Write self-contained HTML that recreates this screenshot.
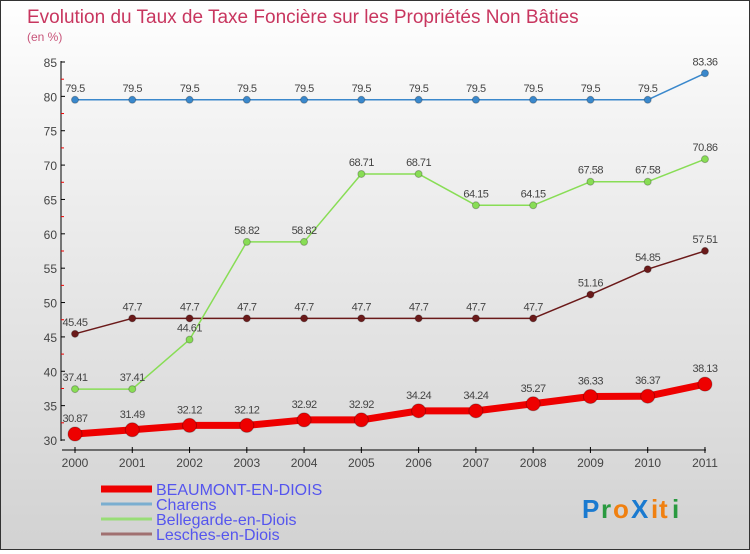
<!DOCTYPE html>
<html><head><meta charset="utf-8">
<style>
html,body{margin:0;padding:0}
body{width:750px;height:550px;overflow:hidden;font-family:"Liberation Sans",sans-serif}
#wrap{position:relative;width:748px;height:548px;border:1px solid #333;background:linear-gradient(#ffffff,#f4f4f4 20%,#d2d2d2)}
</style></head><body>
<div id="wrap">
<svg id="chart" width="748" height="548" font-family="Liberation Sans, sans-serif">
<text x="26" y="22" font-size="19" fill="#c8365f">Evolution du Taux de Taxe Foncière sur les Propriétés Non Bâties</text>
<text x="26" y="40" font-size="12" fill="#c8557a">(en %)</text>
<g id="axes"></g>
<g id="series"></g>
<g id="legend" font-size="16" fill="#5555ee"></g>
<g font-size="26" font-weight="bold">
<text x="581" y="517" fill="#1a7ad0">P</text><text x="600" y="517" fill="#2a9a40">r</text><text x="612" y="517" fill="#f08010">o</text><text x="630" y="517" fill="#1a7ad0">X</text><text x="650" y="517" fill="#f08010">i</text><text x="658" y="517" fill="#f08010">t</text><text x="671" y="517" fill="#2a9a40">i</text>
</g>
</svg>
</div>
<script>
const years=[2000,2001,2002,2003,2004,2005,2006,2007,2008,2009,2010,2011];
const yTicks=[30,35,40,45,50,55,60,65,70,75,80,85];
const beaumont=[30.87,31.49,32.12,32.12,32.92,32.92,34.24,34.24,35.27,36.33,36.37,38.13];
const charens=[79.5,79.5,79.5,79.5,79.5,79.5,79.5,79.5,79.5,79.5,79.5,83.36];
const bellegarde=[37.41,37.41,44.61,58.82,58.82,68.71,68.71,64.15,64.15,67.58,67.58,70.86];
const lesches=[45.45,47.7,47.7,47.7,47.7,47.7,47.7,47.7,47.7,51.16,54.85,57.51];
const seriesNames=["BEAUMONT-EN-DIOIS","Charens","Bellegarde-en-Diois","Lesches-en-Diois"];
const NS="http://www.w3.org/2000/svg";
const X=i=>74+i*57.27;
const Y=v=>439-(v-30)*(378/55);
function mk(tag,attrs,parent,txt){const e=document.createElementNS(NS,tag);for(const k in attrs)e.setAttribute(k,attrs[k]);if(txt!==undefined)e.textContent=txt;parent.appendChild(e);return e;}
const axes=document.getElementById('axes');
let yl=mk('line',{x1:60,y1:60,x2:60,y2:440,stroke:'#000','stroke-width':1},axes);


yTicks.forEach((v,i)=>{
 mk('line',{x1:60,y1:Y(v),x2:64,y2:Y(v),stroke:'#000'},axes);
 if(i<yTicks.length-1) mk('line',{x1:60,y1:Y(v+2.5),x2:63,y2:Y(v+2.5),stroke:'#e00'},axes);
 const t=mk('text',{x:56,y:Y(v)+5,'text-anchor':'end','font-size':12,fill:'#444'},axes,String(v));
 
 
});
let xl=mk('line',{x1:61,y1:449,x2:X(11)+1,y2:449,stroke:'#000','stroke-width':1},axes);


years.forEach((y,i)=>{
 mk('line',{x1:X(i),y1:446,x2:X(i),y2:452,stroke:'#000'},axes);
 const t=mk('text',{x:X(i),y:466,'text-anchor':'middle','font-size':12,fill:'#444'},axes,String(y));
 
 
});
const ser=document.getElementById('series');
function draw(vals,color,w,r,name,lblOff){
 const g=mk('g',{},ser);
 
 
 const pts=vals.map((v,i)=>X(i)+','+Y(v)).join(' ');
 mk('polyline',{points:pts,fill:'none',stroke:color,'stroke-width':w,'stroke-linejoin':'round'},g);
 vals.forEach((v,i)=>{
  const c=mk('circle',{cx:X(i),cy:Y(v),r:r,fill:color,stroke:'rgba(0,0,0,0.25)','stroke-width':1},g);
  
  
  const t=mk('text',{x:X(i),y:Y(v)-lblOff,'text-anchor':'middle','font-size':11,fill:'#444','letter-spacing':'-0.5'},g,String(v));
  
  
 });
}
draw(lesches,'#6b1a1a',1.5,3.5,'series-lesches',8);
draw(bellegarde,'#88dd55',1.5,3.5,'series-bellegarde',8);
draw(charens,'#3a88cc',1.5,3.5,'series-charens',8);
draw(beaumont,'#ee0000',7,7,'series-beaumont',12);
const lg=document.getElementById('legend');
const lc=['#ee0000','#7aaed0','#99dd77','#a07070'];
const lw=[7,3,3,3];
seriesNames.forEach((n,i)=>{
 const y=493+i*15;
 const g=mk('g',{},lg);
 
 
 mk('line',{x1:100,y1:y-5,x2:151,y2:y-5,stroke:lc[i],'stroke-width':lw[i]},g);
 mk('text',{x:155,y:y+1,fill:'#5555ee'},g,n);
});
</script>
</body></html>
